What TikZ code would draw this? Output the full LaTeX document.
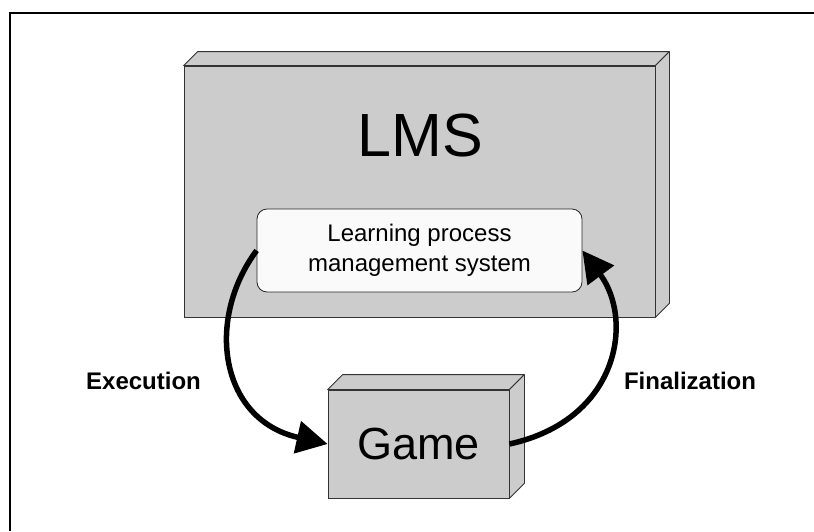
\documentclass[tikz,border=0pt]{standalone}
\usepackage{fontspec}
\setmainfont{Liberation Sans}
\usetikzlibrary{arrows.meta}
\definecolor{boxgray}{gray}{0.8}

\tikzset{
  box/.style={draw=black!80, fill=boxgray, line width=0.8pt, inner sep=0pt},
  face/.style={draw=black!80, fill=boxgray, line width=0.8pt, line join=round},
  inbox/.style={draw=black!85, fill=white!98!black, rounded corners=10pt, line width=0.8pt, align=center, font=\fontsize{24}{30}\selectfont},
  flow/.style={line width=5.5pt, -{Triangle[length=31pt,width=32pt]}},
  lbl/.style={font=\bfseries\fontsize{24}{28}\selectfont}
}

\begin{document}
\begin{tikzpicture}[x=1pt,y=-1pt]
            \useasboundingbox (0,0) rectangle (814,531);
            \draw[line width=2pt] (814,12.5) -- (10,12.5) -- (10,531);

            % LMS block
            \node[box, minimum width=471pt, minimum height=251pt] (lms) at (419.5,191.5) {};
            \draw[face] (lms.north west) -- ++(14,-14) -- ([shift={(14,-14)}]lms.north east) -- (lms.north east) -- cycle;
            \draw[face] (lms.north east) -- ++(14,-14) -- ([shift={(14,-14)}]lms.south east) -- (lms.south east) -- cycle;
            \node[font=\fontsize{61}{70}\selectfont] (lmstitle) at (420,135) {LMS};
            \node[inbox, minimum width=325pt, minimum height=83pt] (lpms) at (419.5,250.5)
                {Learning process\\management system};

            % Game block
            \node[box, minimum width=181pt, minimum height=108pt, font=\fontsize{45}{54}\selectfont] (game) at (418.5,444) {Game};
            \draw[face] (game.north west) -- ++(15,-15) -- ([shift={(15,-15)}]game.north east) -- (game.north east) -- cycle;
            \draw[face] (game.north east) -- ++(15,-15) -- ([shift={(15,-15)}]game.south east) -- (game.south east) -- cycle;

            % flows
            \draw[flow] (lpms.west) .. controls (205,320) and (220,420) .. (game.west);
            \draw[flow] (game.east) .. controls (619,420) and (634,320) .. (lpms.east);
            \node[lbl] (exec) at (143.5,381) {Execution};
            \node[lbl] (final) at (690,381) {Finalization};
        \end{tikzpicture}
\end{document}
